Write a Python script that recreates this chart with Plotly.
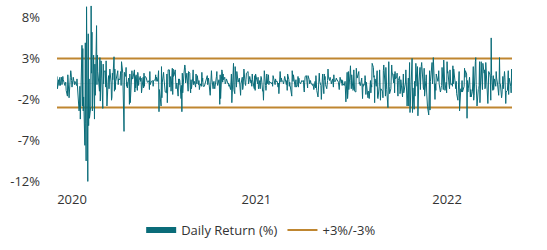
import pandas as pd
import plotly.graph_objects as go

# Daily returns (%), one line per month (trading days)
ret_2020 = [
    0.8, -0.7, 0.4, -0.3, 0.5, 0.7, -0.3, 0.7, -0.2, 0.2, 0.8, 0.4, -0.3, 0.0, 0.1, -0.9, -1.6, 1.0, -0.1, 0.3, -1.8,
    0.7, 1.5, 1.1, 0.3, -0.5, 0.7, 0.2, 0.6, -0.2, 0.2, -0.3, 0.5, -0.4, -1.1, -3.4, -3.0, -0.4, -4.4, -0.8,
    4.6, -2.8, 4.2, -3.4, -1.7, -7.6, 4.9, -4.9, -9.5, 9.3, -12.0, 6.0, -5.2, 0.5, -4.3, -2.9, 9.4, 1.2, 6.2, -3.4, 3.4, -1.6,
    -4.4, 2.3, -1.5, 7.0, -0.2, 3.4, 1.4, -1.0, 3.1, -2.2, 0.6, 2.7, -1.8, -3.1, 2.3, -0.1, 1.4, 1.5, -0.5, 2.7, -0.9,
    -2.8, 0.4, 0.9, -0.7, 1.1, 1.7, 0.0, -2.1, -1.7, 1.2, 0.4, 3.2, -1.0, 1.7, -0.8, 0.2, 1.2, 1.5, -0.2, 0.5,
    0.4, 0.8, 1.4, -0.3, 2.6, 1.2, -0.8, -0.5, -5.9, 1.3, 0.8, 1.9, -0.4, 0.1, -0.6, 0.6, 0.4, -2.6, 1.1, -2.4, 1.5, 1.5,
    0.5, 0.5, 1.6, -1.1, 0.8, -0.6, 1.0, -0.9, 1.3, 0.9, -0.3, 0.3, 0.8, 0.2, 0.6, -1.2, -0.6, 0.7, -0.6, 1.2, -0.4, 0.8,
    0.7, 0.4, 0.6, 0.1, 0.1, 0.3, -0.8, 1.4, -0.2, 0.0, 0.2, 0.3, 0.2, -0.4, 0.3, 0.4, 0.4, 1.0, 0.2, 0.7, 0.2,
    0.8, 1.5, -3.5, -0.8, -2.8, 2.0, -1.8, 0.1, 1.3, 0.5, -0.5, -0.8, -1.1, -1.2, 1.1, -2.4, 0.3, 1.6, 1.6, -0.5, 0.8,
    0.5, -1.0, 1.8, -1.4, 1.7, 0.8, 0.9, 1.6, -0.6, -0.7, -0.2, 0.0, -1.6, 0.5, -0.2, 0.5, 0.3, -1.9, -0.3, -3.5, 1.2, -1.2,
    1.2, 1.8, 2.2, 1.9, 0.0, 1.2, -0.1, 0.8, -1.0, 1.4, 1.2, -0.5, -1.2, 0.4, -0.7, 0.6, 1.6, -0.2, 0.2, -0.5,
    1.1, 0.2, -0.1, 0.9, -0.2, 0.3, -0.8, -0.1, -0.1, -0.4, 1.3, 0.2, 0.6, -0.4, -0.4, -0.2, 0.1, 0.4, 0.9, -0.2, 0.1, 0.6,
]
ret_2021 = [
    -1.5, 0.7, 0.6, 1.5, 0.5, -0.7, 0.0, 0.2, -0.4, -0.7, 0.8, 1.4, 0.0, -0.3, 0.4, -0.1, -2.6, 1.0, -1.9,
    1.6, 1.4, 0.1, 1.1, 0.4, 0.7, -0.1, 0.0, 0.2, 0.5, -0.1, 0.0, -0.4, -0.2, -0.8, 0.1, 1.1, -2.4, -0.5,
    2.4, -0.8, -1.3, -1.3, 2.0, -0.5, 1.4, 0.6, 1.0, 0.1, 0.6, -0.2, 0.3, -1.5, -0.1, 0.7, -0.8, -0.5, 0.5, 1.7, -0.1, -0.3, 0.4,
    1.2, 1.4, -0.1, 0.1, 0.4, 0.8, 0.0, 0.3, -0.4, 1.1, 0.4, -0.5, -0.7, 0.9, -0.9, 1.1, 0.2, 0.0, -0.1, 0.7, -0.7,
    0.3, -0.7, 0.1, 0.8, 0.7, -1.0, -0.9, -2.1, 1.2, 1.5, -0.3, -0.9, -0.3, 1.1, -0.1, 1.0, -0.2, 0.2, 0.1, 0.1,
    -0.1, 0.1, -0.4, 0.9, -0.1, 0.0, -0.2, 0.5, 0.2, 0.2, -0.2, -0.5, 0.0, -1.3, 1.4, 0.5, 0.1, 0.6, 0.3, 0.2, -0.1, 0.1,
    0.5, 0.8, -0.2, 0.3, -0.9, 1.1, 0.4, -0.4, 0.1, -0.3, -0.8, -1.6, 1.5, 0.8, 0.2, 1.0, 0.2, -0.5, 0.0, 0.4, -0.5,
    -0.2, 0.8, -0.5, 0.6, 0.2, -0.1, 0.1, 0.3, 0.3, 0.2, 0.3, -0.7, -1.1, 0.1, 0.8, 0.9, 0.2, 0.2, -0.6, 0.9, 0.4, -0.1,
    0.0, 0.3, 0.0, -0.3, -0.1, -0.5, -0.8, 0.2, -0.6, 0.9, -0.2, -0.9, -1.7, -0.1, 1.0, 1.2, 0.2, -0.3, -2.0, 0.2, -1.2,
    1.1, -1.3, 1.1, 0.4, 0.8, -0.2, -0.7, -0.2, 0.3, 1.7, 0.7, 0.3, 0.7, 0.4, 0.3, -0.1, 0.5, 0.2, -0.5, 1.0, 0.2,
    0.2, 0.4, 0.6, 0.4, 0.4, 0.1, -0.3, -0.8, 0.1, 0.7, 0.0, 0.4, -0.3, 0.3, -0.1, -0.3, 0.2, 0.2, -2.3, 1.3, -1.9,
    -1.2, 1.4, -0.8, 1.2, 2.1, 0.3, -0.7, 1.0, -0.9, -0.8, 1.6, -0.9, -1.0, -1.1, 1.8, 1.0, 0.6, 1.4, -0.1, 0.1, -0.3, -0.3,
]
ret_2022 = [
    0.6, -0.1, -1.9, -0.1, -0.4, -0.1, 0.9, 0.3, -1.4, 0.1, -1.8, -1.0, -1.1, -1.9, 0.3, -1.2, -0.2, -0.5, 2.4, 1.9,
    0.7, 0.9, -2.4, 0.5, -0.4, 0.8, 1.5, -1.8, -1.9, -0.4, 1.6, 0.1, -2.1, -0.7, -1.0, -1.8, 1.5, 2.2, -0.2,
    -1.6, 1.9, -0.5, -0.8, -3.0, -0.7, 2.6, -0.4, -1.3, -0.7, 2.1, 2.2, 1.2, 1.2, 0.0, 1.1, -1.2, 1.4, 0.5, 0.7, 1.2, -0.6, -1.6,
    0.3, 0.8, -1.3, -1.0, 0.4, -0.3, -1.7, -0.3, 1.1, -1.2, 0.0, 1.6, -0.1, -1.5, -2.8, 0.6, -2.8, 0.2, 2.5, -3.6,
    0.6, 0.5, 3.0, -3.6, -0.6, -3.2, 0.2, -1.6, -0.1, 2.4, -0.4, 2.0, -4.0, -0.6, 0.0, 1.9, -0.8, 1.0, 2.0, 2.5, -0.6,
    -0.8, 1.8, -1.6, 0.3, 1.0, -1.1, -2.4, -2.9, -3.9, -0.4, 1.5, -3.3, 0.2, 2.5, -0.1, 1.0, 3.1, -0.3, -2.0, -0.1, -0.9,
    1.1, 0.2, 0.4, 1.5, -0.1, -1.1, -0.9, -0.5, -0.3, 1.9, -0.8, 2.8, 0.6, 1.0, -0.9, 0.1, -1.2, 2.6, 1.2, 1.4,
    -0.3, -0.7, 1.6, -0.1, -0.2, -0.1, -0.4, 2.1, -0.1, 1.7, 0.4, 0.2, -0.7, 0.2, -1.3, -2.1, -0.2, 0.3, 1.4, -3.4, -0.7, -1.1, -0.8,
    0.3, -1.1, -0.4, 1.8, 0.7, 1.5, 1.1, -4.3, 0.3, -1.1, -0.7, 0.7, -1.1, -1.7, -0.8, -1.7, -1.0, -0.2, 2.0, -2.1, -1.5,
    2.6, 3.1, -0.2, -1.0, -2.8, -0.8, -0.7, -0.3, 2.6, -2.4, 2.6, 1.1, -0.7, -0.8, 2.4, 1.2, 1.6, -0.7, -0.6, 2.5, -0.7,
    -0.4, -2.5, -1.1, 1.4, 1.0, 0.6, -2.1, 5.5, 0.9, -0.9, 0.9, -0.8, -0.3, 0.5, -0.4, 1.4, 0.6, 0.0, -1.5, -0.2, 3.1,
    -0.1, -0.1, -1.8, -1.4, -0.2, 0.8, -0.7, 1.4, 0.7, -0.6, -2.5, -1.1, -0.9, 0.1, 1.5, -1.4, 0.6, -0.4, -1.2, 1.7, -0.3,
]

holidays = [
    "2020-01-01", "2020-01-20", "2020-02-17", "2020-04-10", "2020-05-25", "2020-07-03",
    "2020-09-07", "2020-11-26", "2020-12-25",
    "2021-01-01", "2021-01-18", "2021-02-15", "2021-04-02", "2021-05-31", "2021-07-05",
    "2021-09-06", "2021-11-25", "2021-12-24",
    "2022-01-17", "2022-02-21", "2022-04-15", "2022-05-30", "2022-06-20", "2022-07-04",
    "2022-09-05", "2022-11-24", "2022-12-26",
]

band_values = [3, -3]
tick_dates = ["2020-02-07", "2021-04-25", "2022-07-27"]
tick_labels = ["2020", "2021", "2022"]
y_ticks = [8, 3, -2, -7, -12]

TEAL = "#0A6C79"
GOLD = "#BF8630"
TXT = "#333333"
FONT = "Open Sans, sans-serif"

dates, values = [], []
for yr, vals in ((2020, ret_2020), (2021, ret_2021), (2022, ret_2022)):
    d = pd.bdate_range(f"{yr}-01-01", f"{yr}-12-31", freq="C", holidays=holidays)
    n = min(len(d), len(vals))
    dates.extend(list(d[:n]))
    values.extend(vals[:n])

x0, x1 = dates[0], dates[-1]

fig = go.Figure()
for b in band_values:
    fig.add_trace(go.Scatter(
        x=[x0, x1], y=[b, b], mode="lines",
        line=dict(color=GOLD, width=2),
        name="+3%/-3%", legendgroup="band", showlegend=False,
        hoverinfo="skip",
    ))
fig.add_trace(go.Scatter(
    x=dates, y=values, mode="lines",
    line=dict(color=TEAL, width=1),
    name="Daily Return (%)", showlegend=False,
))
# legend entries
fig.add_trace(go.Scatter(x=[None], y=[None], mode="lines",
                         line=dict(color=TEAL, width=6),
                         name="Daily Return (%)"))
fig.add_trace(go.Scatter(x=[None], y=[None], mode="lines",
                         line=dict(color=GOLD, width=2),
                         name="+3%/-3%"))

fig.update_layout(
    width=547, height=250,
    margin=dict(l=57, r=35, t=2, b=64),
    paper_bgcolor="white", plot_bgcolor="white",
    font=dict(family=FONT, size=13, color=TXT),
    legend=dict(orientation="h", x=0.185, xanchor="left", y=-0.24, yanchor="middle",
                font=dict(family=FONT, size=13, color=TXT), itemwidth=30,
                traceorder="normal"),
    showlegend=True,
)
fig.update_xaxes(
    type="date", range=[x0, x1], showgrid=False, zeroline=False, showline=False,
    tickmode="array", tickvals=tick_dates, ticktext=tick_labels, ticks="",
    ticklabelstandoff=4, tickfont=dict(family=FONT, size=13, color=TXT),
)
fig.update_yaxes(
    range=[-12.56, 9.88], showgrid=False, zeroline=True, zerolinecolor="#e3e3e3",
    zerolinewidth=1, tickmode="array", tickvals=y_ticks,
    ticktext=[f"{v}%" for v in y_ticks], ticks="", showline=False,
    ticklabelstandoff=16, tickfont=dict(family=FONT, size=13, color=TXT),
)

fig.write_html("out.html")
